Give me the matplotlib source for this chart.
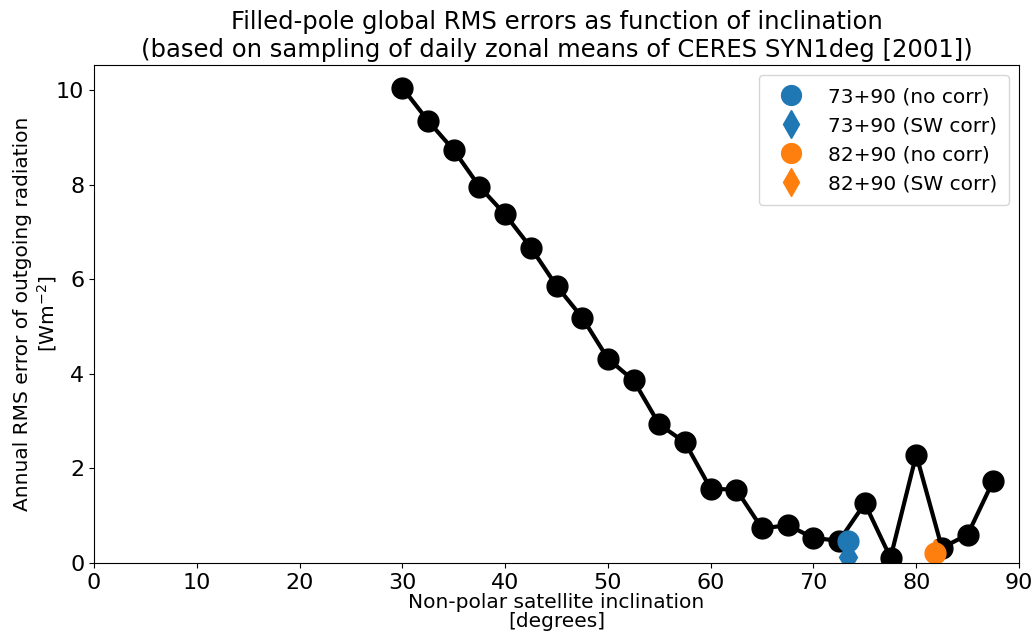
import matplotlib
matplotlib.use("Agg")
import matplotlib.pyplot as plt

inclination = [30, 32.5, 35, 37.5, 40, 42.5, 45, 47.5, 50, 52.5, 55, 57.5, 60,
               62.5, 65, 67.5, 70, 72.5, 75, 77.5, 80, 82.5, 85, 87.5]
rms_error = [10.05, 9.35, 8.73, 7.96, 7.37, 6.67, 5.86, 5.19, 4.32, 3.86, 2.93, 2.55,
             1.57, 1.55, 0.73, 0.80, 0.53, 0.47, 1.26, 0.11, 2.29, 0.32, 0.60, 1.74]

x73 = [73.4]
y73_nocorr = [0.46]
y73_swcorr = [0.12]
x82 = [81.8]
y82_nocorr = [0.22]
y82_swcorr = [0.20]

plt.rcParams['font.size'] = 14.5
plt.rcParams['xtick.labelsize'] = 16
plt.rcParams['ytick.labelsize'] = 16
fig = plt.figure(figsize=(10.33, 6.35), dpi=100)
ax = fig.add_axes([94/1033, 1-563/635, (1019-94)/1033, (563-65)/635])

ax.plot(inclination, rms_error, 'k-o', lw=3, ms=15)
ax.plot(x73, y73_nocorr, 'o', color='tab:blue', ms=15, label='73+90 (no corr)')
ax.plot(x73, y73_swcorr, 'd', color='tab:blue', ms=15, label='73+90 (SW corr)')
ax.plot(x82, y82_nocorr, 'o', color='tab:orange', ms=15, label='82+90 (no corr)')
ax.plot(x82, y82_swcorr, 'd', color='tab:orange', ms=15, label='82+90 (SW corr)')

ax.set_xlim(0, 90)
ax.set_ylim(0, 10.53)
ax.set_xticks(range(0, 91, 10))
ax.set_xlabel('Non-polar satellite inclination\n[degrees]', labelpad=0, linespacing=1.0)
ax.set_ylabel('Annual RMS error of outgoing radiation\n[Wm$^{-2}$]', linespacing=1.15, labelpad=-2)
ax.set_title('Filled-pole global RMS errors as function of inclination\n(based on sampling of daily zonal means of CERES SYN1deg [2001])',
             fontsize=17.5)
ax.legend(loc='upper right', borderpad=0.6, labelspacing=0.5, markerscale=0.95)

fig.savefig('out.png', dpi=100)
